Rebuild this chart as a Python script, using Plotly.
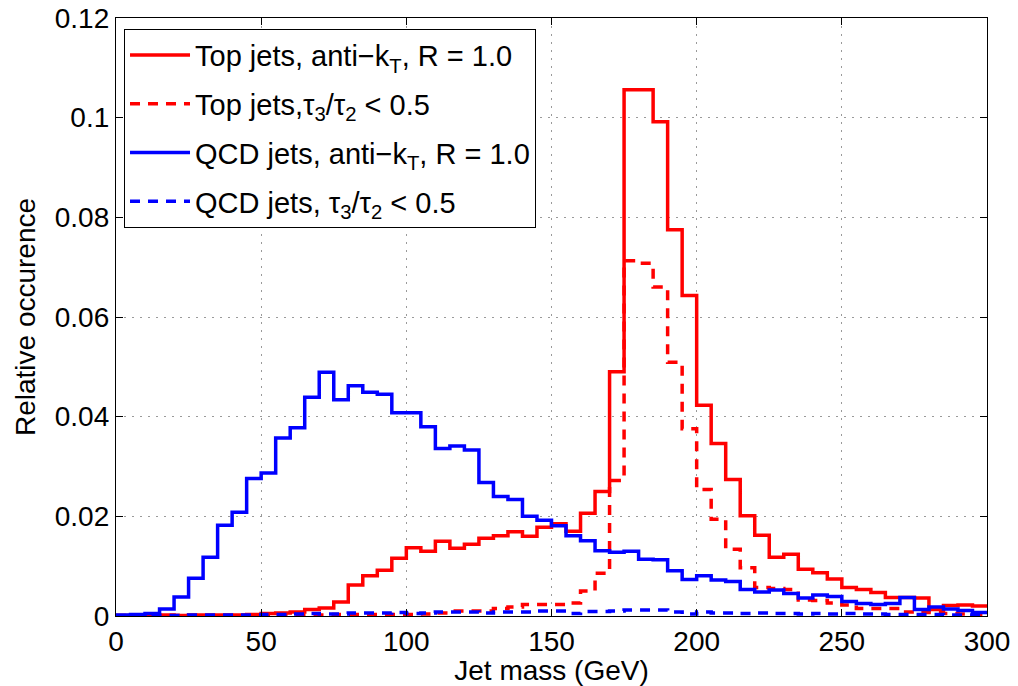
import numpy as np
import plotly.graph_objects as go

# Bin edges (GeV), 5 GeV bins from 0 to 300
bin_edges = list(range(0, 305, 5))

top_akt = [0.0001, 0.0001, 0.0001, 0.0002, 0.0001, 0.0002, 0.0002, 0.0002, 0.0002, 0.0003,
           0.0005, 0.0006, 0.0008, 0.0013, 0.0016, 0.0028, 0.0062, 0.0081, 0.0092, 0.0116,
           0.0137, 0.0130, 0.0150, 0.0136, 0.0144, 0.0156, 0.0161, 0.0169, 0.0160, 0.0178,
           0.0185, 0.0170, 0.0206, 0.0250, 0.0490, 0.1056, 0.1056, 0.0992, 0.0775, 0.0643,
           0.0423, 0.0346, 0.0274, 0.0201, 0.0162, 0.0118, 0.0124, 0.0094, 0.0087, 0.0074,
           0.0057, 0.0053, 0.0047, 0.0037, 0.0037, 0.0036, 0.0013, 0.0021, 0.0022, 0.0020]

top_tau = [0.0001, 0.0001, 0.0001, 0.0001, 0.0001, 0.0001, 0.0001, 0.0001, 0.0001, 0.0001,
           0.0001, 0.0002, 0.0002, 0.0002, 0.0002, 0.0003, 0.0003, 0.0003, 0.0003, 0.0003,
           0.0003, 0.0004, 0.0006, 0.0010, 0.0010, 0.0010, 0.0015, 0.0018, 0.0023, 0.0023,
           0.0023, 0.0026, 0.0050, 0.0086, 0.0272, 0.0713, 0.0708, 0.0660, 0.0509, 0.0376,
           0.0254, 0.0194, 0.0134, 0.0097, 0.0057, 0.0055, 0.0053, 0.0032, 0.0031, 0.0026,
           0.0022, 0.0015, 0.0015, 0.0015, 0.0008, 0.0007, 0.0008, 0.0005, 0.0004, 0.0003]

qcd_akt = [0.0002, 0.0003, 0.0005, 0.0014, 0.0038, 0.0076, 0.0118, 0.0182, 0.0208, 0.0276,
           0.0287, 0.0357, 0.0378, 0.0439, 0.0489, 0.0434, 0.0462, 0.0449, 0.0445, 0.0408,
           0.0408, 0.0380, 0.0336, 0.0341, 0.0333, 0.0268, 0.0240, 0.0234, 0.0200, 0.0192,
           0.0181, 0.0161, 0.0151, 0.0131, 0.0128, 0.0130, 0.0114, 0.0113, 0.0091, 0.0073,
           0.0081, 0.0072, 0.0069, 0.0053, 0.0048, 0.0052, 0.0045, 0.0036, 0.0042, 0.0039,
           0.0029, 0.0025, 0.0023, 0.0025, 0.0037, 0.0013, 0.0018, 0.0014, 0.0011, 0.0007]

qcd_tau = [0.0000, 0.0001, 0.0001, 0.0001, 0.0001, 0.0002, 0.0002, 0.0002, 0.0002, 0.0002,
           0.0003, 0.0003, 0.0004, 0.0005, 0.0004, 0.0004, 0.0006, 0.0006, 0.0006, 0.0007,
           0.0005, 0.0006, 0.0008, 0.0008, 0.0008, 0.0006, 0.0008, 0.0008, 0.0008, 0.0010,
           0.0010, 0.0005, 0.0009, 0.0009, 0.0010, 0.0012, 0.0012, 0.0012, 0.0008, 0.0004,
           0.0008, 0.0006, 0.0006, 0.0005, 0.0006, 0.0005, 0.0005, 0.0004, 0.0005, 0.0004,
           0.0005, 0.0004, 0.0004, 0.0003, 0.0003, 0.0003, 0.0003, 0.0002, 0.0002, 0.0002]

series_names = [
    "Top jets, anti\u2212k<sub>T</sub>, R = 1.0",
    "Top jets,\u03c4<sub>3</sub>/\u03c4<sub>2</sub> &lt; 0.5",
    "QCD jets, anti\u2212k<sub>T</sub>, R = 1.0",
    "QCD jets, \u03c4<sub>3</sub>/\u03c4<sub>2</sub> &lt; 0.5",
]
series_values = [top_akt, top_tau, qcd_akt, qcd_tau]
series_colors = ["#ff0000", "#ff0000", "#0000ff", "#0000ff"]
series_dash = ["solid", "10px,8px", "solid", "10px,8px"]

x_ticks = [0, 50, 100, 150, 200, 250, 300]
y_ticks = [0, 0.02, 0.04, 0.06, 0.08, 0.1, 0.12]

FONT = "Liberation Sans, Arial, Helvetica, sans-serif"

fig = go.Figure()
for i, (name, vals, col, dash) in enumerate(zip(series_names, series_values, series_colors, series_dash)):
    fig.add_trace(go.Scatter(
        x=bin_edges,
        y=list(vals) + [vals[-1]],
        mode="lines",
        name=name,
        legendgroup=f"g{i}",
        line=dict(shape="hv", color=col, width=3.5, dash=dash),
    ))

axis_common = dict(
    showline=True, linecolor="black", linewidth=1.3, mirror="ticks",
    ticks="inside", ticklen=7, tickwidth=1.2, tickcolor="black",
    showgrid=True, gridcolor="#9a9a9a", gridwidth=1, griddash="2px,6px",
    zeroline=False, automargin=False,
    tickfont=dict(family=FONT, size=28, color="black"),
)

fig.update_layout(
    width=1018, height=686,
    margin=dict(l=116, r=31, t=18, b=70),
    paper_bgcolor="white", plot_bgcolor="white",
    font=dict(family=FONT, size=28, color="black"),
    xaxis=dict(range=[0, 300], tickvals=x_ticks,
               title=dict(text="Jet mass (GeV)", font=dict(family=FONT, size=28), standoff=2),
               **axis_common),
    yaxis=dict(range=[0, 0.12], tickvals=y_ticks,
               ticktext=["0", "0.02", "0.04", "0.06", "0.08", "0.1", "0.12"],
               title=dict(text="Relative occurence", font=dict(family=FONT, size=28), standoff=10),
               **axis_common),
    legend=dict(
        x=0.0092, y=0.982, xanchor="left", yanchor="top",
        bgcolor="white", bordercolor="black", borderwidth=1,
        font=dict(family=FONT, size=29, color="black"),
        tracegroupgap=8,
        itemwidth=60,
    ),
    showlegend=True,
)

fig.write_html("out.html")
